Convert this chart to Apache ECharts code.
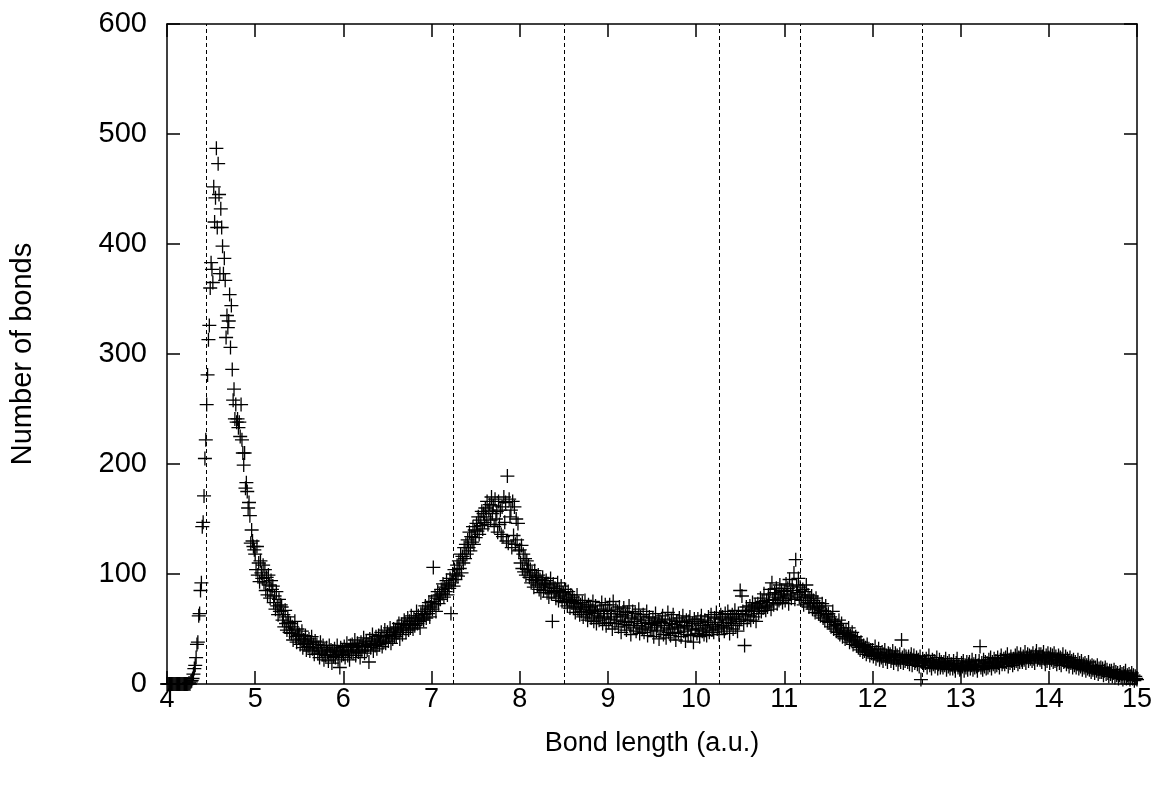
<!DOCTYPE html>
<html>
<head>
<meta charset="utf-8">
<script src="https://cdn.jsdelivr.net/npm/echarts@6/dist/echarts.min.js"></script>
<style>
html,body{margin:0;padding:0;background:#fff;}
#chart{width:1161px;height:788px;}
</style>
</head>
<body>
<div id="chart"></div>
<script>
// Histogram bins: first bin centre and bin width (a.u.)
const binStart = 4.0;
const binWidth = 0.01;

// Number of bonds per bin, one array per unit of bond length
const counts4 = [
  0,0,0,0,0,0,0,0,0,0,
  0,0,0,0,0,0,0,0,0,0,
  0,0,0,0,0,1,0,2,3,5,
  9,14,17,24,36,38,62,64,85,92,
  143,147,171,205,222,254,281,313,326,360,
  383,377,365,452,420,442,487,415,473,445,
  373,432,415,398,373,387,367,315,335,324,
  330,354,306,344,286,258,268,241,254,238,
  241,233,238,225,254,222,210,199,210,178,
  183,175,160,165,153,128,140,130,125,122
];
const counts5 = [
  118,104,125,99,110,93,112,101,96,108,
  92,104,85,97,81,99,90,78,94,86,
  89,74,80,68,84,71,63,77,66,72,
  70,58,63,52,67,55,49,61,56,47,
  55,46,52,40,49,57,43,38,50,44,
  45,36,41,48,33,40,37,44,31,39,
  34,41,30,38,43,32,36,27,39,33,
  36,28,33,24,38,30,27,35,22,31,
  26,33,29,21,35,27,31,19,30,25,
  32,24,29,35,22,28,15,33,26,30
];
const counts6 = [
  27,34,24,31,37,26,30,22,35,29,
  36,28,33,40,26,31,37,29,34,24,
  38,30,35,42,28,34,39,31,36,20,
  41,33,37,45,30,39,35,43,32,38,
  44,36,40,47,34,42,38,49,37,43,
  47,39,44,51,37,45,41,50,43,48,
  43,52,47,55,41,49,54,45,51,58,
  55,47,53,60,49,57,51,62,54,50,
  60,53,58,66,55,62,57,51,64,59,
  66,58,63,71,60,68,64,74,61,70
];
const counts7 = [
  75,68,106,72,80,66,78,84,73,81,
  77,86,82,91,79,88,84,94,81,90,
  87,96,64,92,100,89,104,95,99,108,
  98,112,105,118,101,116,110,124,114,127,
  118,131,124,138,121,134,129,143,127,140,
  133,146,139,152,136,149,144,157,141,155,
  147,160,152,166,145,158,163,149,170,155,
  162,143,168,150,157,138,166,145,158,136,
  161,134,170,147,165,130,189,128,168,152,
  158,124,166,135,161,127,150,131,146,121
];
const counts8 = [
  122,110,126,105,118,102,114,99,112,104,
  108,97,104,92,101,95,88,103,94,98,
  90,99,86,95,83,92,97,85,91,88,
  94,83,90,79,88,96,82,57,91,84,
  87,78,85,92,76,84,80,89,75,83,
  82,74,86,78,71,84,77,69,81,75,
  79,70,76,65,73,81,68,74,63,72,
  66,74,61,70,76,63,68,58,72,65,
  70,60,67,75,57,64,71,55,66,62,
  58,68,61,74,55,66,60,72,53,64
];
const counts9 = [
  67,56,72,59,64,50,75,61,55,68,
  58,66,52,70,61,47,63,57,69,54,
  62,49,65,56,71,53,45,60,66,51,
  57,64,48,59,53,68,46,61,55,50,
  63,47,58,52,66,44,56,61,49,54,
  51,60,43,55,64,48,53,58,41,57,
  49,56,62,45,53,59,42,51,65,47,
  55,44,58,50,63,46,54,40,57,52,
  47,60,51,43,56,62,48,53,39,58,
  52,45,57,61,44,50,55,38,59,49
];
const counts10 = [
  55,46,59,50,43,57,62,48,53,45,
  58,51,44,56,61,47,54,63,49,52,
  47,60,54,65,50,56,45,59,63,52,
  61,53,48,64,56,51,66,58,46,60,
  55,63,50,59,67,53,61,48,64,57,
  85,59,80,66,55,35,63,70,58,67,
  62,71,58,68,74,61,66,72,57,69,
  73,64,70,78,66,75,69,82,71,67,
  76,70,81,74,86,68,92,77,72,83,
  79,87,73,82,76,90,78,85,74,81
];
const counts11 = [
  84,76,91,80,87,73,95,82,78,89,
  85,101,77,113,90,83,96,79,88,81,
  76,86,72,84,79,90,74,81,70,78,
  73,80,68,76,71,65,78,69,74,64,
  70,62,67,73,60,66,58,71,63,57,
  64,56,61,52,59,66,50,57,54,48,
  53,47,58,45,51,55,43,49,46,41,
  48,42,45,51,38,44,40,47,36,42,
  39,43,35,40,33,37,31,38,34,29,
  35,30,33,27,36,29,32,26,31,28
];
const counts12 = [
  31,25,28,34,23,29,26,32,22,27,
  24,29,21,27,31,23,26,20,28,25,
  27,21,25,30,19,24,28,22,26,18,
  22,27,20,40,24,19,26,21,25,23,
  20,25,18,23,27,17,22,26,19,21,
  24,18,22,16,25,4,20,23,17,21,
  19,23,15,21,26,17,20,14,22,18,
  21,16,19,24,14,18,22,15,20,17,
  15,20,17,23,13,19,16,21,14,18,
  18,14,21,16,12,19,23,15,17,13
];
const counts13 = [
  14,19,16,21,12,17,15,20,13,18,
  20,14,17,22,13,18,15,21,16,12,
  17,21,34,15,19,13,22,16,20,14,
  19,15,22,17,24,14,20,18,23,16,
  21,17,24,19,15,22,26,18,20,23,
  18,24,20,27,16,22,19,25,21,17,
  23,19,26,21,28,18,24,20,27,22,
  20,25,22,29,19,24,27,21,26,23,
  25,21,28,23,19,26,30,22,24,27,
  22,27,20,25,29,23,18,26,21,28
];
const counts14 = [
  24,19,27,22,26,20,28,21,25,18,
  22,26,19,24,17,23,27,20,21,25,
  18,23,20,16,24,19,21,15,22,17,
  20,15,18,22,14,19,16,21,13,18,
  15,19,12,17,14,20,13,16,11,17,
  13,16,10,15,12,17,9,14,11,15,
  11,14,8,12,15,9,13,10,7,12,
  9,12,7,10,13,6,11,8,10,5,
  8,11,6,9,4,10,7,12,5,8,
  6,9,4,7,10,5,8,3,7,5
];
const counts15 = [4];

// Vertical dashed reference lines (bond length, a.u.)
const dashedLineX = [4.44, 7.25, 8.51, 10.26, 11.18, 12.56];

// Axis ticks
const xTicks = [4, 5, 6, 7, 8, 9, 10, 11, 12, 13, 14, 15];
const yTicks = [0, 100, 200, 300, 400, 500, 600];

const xTitle = 'Bond length (a.u.)';
const yTitle = 'Number of bonds';

const counts = [].concat(counts4, counts5, counts6, counts7, counts8, counts9,
  counts10, counts11, counts12, counts13, counts14, counts15);
const points = counts.map((c, i) => [+(binStart + i * binWidth).toFixed(2), c]);

const FONT = '"Liberation Sans", Arial, Helvetica, sans-serif';
const plusPath = 'path://M6.35,0h1.3v6.35h6.35v1.3h-6.35v6.35h-1.3v-6.35h-6.35v-1.3h6.35z';

const axisLine = { show: true, onZero: false, lineStyle: { color: '#000', width: 1.5 } };
const axisTick = { show: true, inside: true, length: 13, lineStyle: { color: '#000', width: 1.5 } };

const xMin = xTicks[0], xMax = xTicks[xTicks.length - 1];
const xInt = xTicks[1] - xTicks[0];
const yMin = yTicks[0], yMax = yTicks[yTicks.length - 1];
const yInt = yTicks[1] - yTicks[0];

const chart = echarts.init(document.getElementById('chart'), null, { renderer: 'canvas' });
chart.setOption({
  backgroundColor: '#fff',
  animation: false,
  grid: { left: 164.5, right: 24, top: 24, bottom: 104, containLabel: false },
  xAxis: [
    {
      type: 'value', position: 'bottom', min: xMin, max: xMax, interval: xInt,
      axisLine: axisLine, axisTick: axisTick, splitLine: { show: false },
      axisLabel: { color: '#000', fontSize: 27, fontFamily: FONT, margin: 2 },
      name: xTitle, nameLocation: 'middle', nameGap: 46,
      nameTextStyle: { color: '#000', fontSize: 27, fontFamily: FONT }
    },
    {
      type: 'value', position: 'top', min: xMin, max: xMax, interval: xInt,
      axisLine: axisLine, axisTick: axisTick, splitLine: { show: false },
      axisLabel: { show: false }
    }
  ],
  yAxis: [
    {
      type: 'value', position: 'left', min: yMin, max: yMax, interval: yInt,
      axisLine: axisLine, axisTick: axisTick, splitLine: { show: false },
      axisLabel: { color: '#000', fontSize: 29, fontFamily: FONT, margin: 20 },
      name: yTitle, nameLocation: 'middle', nameGap: 130, nameRotate: 90,
      nameTextStyle: { color: '#000', fontSize: 29, fontFamily: FONT }
    },
    {
      type: 'value', position: 'right', min: yMin, max: yMax, interval: yInt,
      axisLine: axisLine, axisTick: axisTick, splitLine: { show: false },
      axisLabel: { show: false }
    }
  ],
  series: [
    {
      type: 'scatter',
      xAxisIndex: 0, yAxisIndex: 0,
      data: [],
      silent: true,
      markLine: {
        silent: true,
        symbol: ['none', 'none'],
        label: { show: false },
        lineStyle: { color: '#000', width: 1, type: [4, 3] },
        data: dashedLineX.map(v => ({ xAxis: v }))
      }
    },
    {
      type: 'scatter',
      xAxisIndex: 0, yAxisIndex: 0,
      data: points,
      symbol: plusPath,
      symbolSize: 14,
      itemStyle: { color: '#000', opacity: 1 },
      silent: true,
      clip: false
    }
  ]
});
</script>
</body>
</html>
